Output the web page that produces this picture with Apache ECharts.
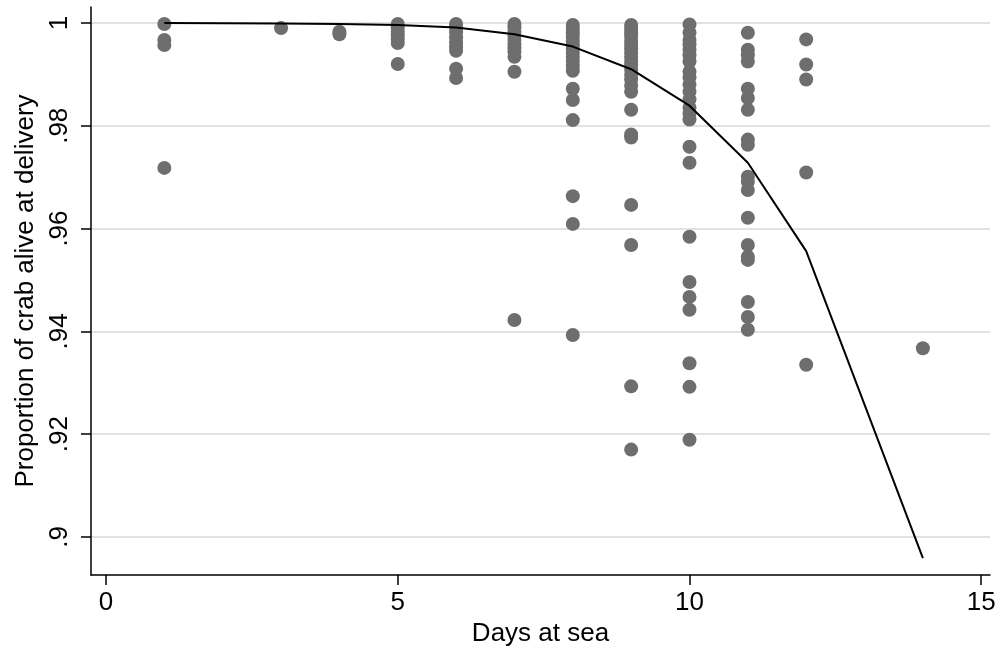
<!DOCTYPE html>
<html>
<head>
<meta charset="utf-8">
<script src="https://cdn.jsdelivr.net/npm/echarts@6/dist/echarts.min.js"></script>
<style>
html,body{margin:0;padding:0;background:#fff;}
#chart{width:997px;height:648px;}
</style>
</head>
<body>
<div id="chart"></div>
<script>
// Observed proportions by days at sea
const day1 = [0.9998, 0.9967, 0.9957, 0.9718];
const day3 = [0.9990];
const day4 = [0.9983, 0.9978];
const day5 = [0.9998, 0.9991, 0.9983, 0.9976, 0.9968, 0.9961, 0.9920];
const day6 = [0.9998, 0.9991, 0.9982, 0.9972, 0.9962, 0.9953, 0.9946, 0.9911, 0.9893];
const day7 = [0.9998, 0.9991, 0.9983, 0.9975, 0.9967, 0.9959, 0.9951, 0.9944, 0.9934, 0.9905, 0.9422];
const day8 = [0.9996, 0.9988, 0.9980, 0.9973, 0.9965, 0.9957, 0.9950, 0.9942, 0.9934, 0.9926, 0.9916, 0.9907, 0.9872, 0.9850, 0.9811, 0.9663, 0.9609, 0.9393];
const day9 = [0.9996, 0.9988, 0.9980, 0.9973, 0.9965, 0.9957, 0.9950, 0.9942, 0.9934, 0.9926, 0.9918, 0.9909, 0.9899, 0.9890, 0.9878, 0.9866, 0.9831, 0.9783, 0.9777, 0.9646, 0.9568, 0.9293, 0.9170];
const day10 = [0.9997, 0.9981, 0.9967, 0.9958, 0.9948, 0.9937, 0.9925, 0.9905, 0.9894, 0.9880, 0.9866, 0.9851, 0.9835, 0.9824, 0.9812, 0.9759, 0.9728, 0.9584, 0.9496, 0.9467, 0.9442, 0.9338, 0.9292, 0.9189];
const day11 = [0.9981, 0.9948, 0.9937, 0.9925, 0.9872, 0.9854, 0.9831, 0.9773, 0.9763, 0.9701, 0.9691, 0.9675, 0.9621, 0.9568, 0.9545, 0.9539, 0.9457, 0.9428, 0.9403];
const day12 = [0.9968, 0.9919, 0.9890, 0.9709, 0.9335];
const day14 = [0.9367];

const scatterDays = [1, 3, 4, 5, 6, 7, 8, 9, 10, 11, 12, 14];
const scatterValues = [day1, day3, day4, day5, day6, day7, day8, day9, day10, day11, day12, day14];

// Fitted curve
const fitDays = [1, 3, 4, 5, 6, 7, 8, 9, 10, 11, 12, 14];
const fitValues = [1.0000, 0.9999, 0.9998, 0.9996, 0.9991, 0.9978, 0.9954, 0.9910, 0.9839, 0.9728, 0.9556, 0.8959];

// Tick labels
const xTicks = [0, 5, 10, 15];
const yTicks = [0.9, 0.92, 0.94, 0.96, 0.98, 1];

const scatterData = [];
scatterDays.forEach((d, i) => scatterValues[i].forEach(v => scatterData.push([d, v])));
const fitData = fitDays.map((d, i) => [d, fitValues[i]]);

const FONT = 'Liberation Sans, Arial, Helvetica, sans-serif';
const FS = 26;
const chart = echarts.init(document.getElementById('chart'), null, {renderer: 'canvas'});
chart.setOption({
  animation: false,
  backgroundColor: '#fff',
  grid: {left: 91, right: 7, top: 7, bottom: 73, containLabel: false, outerBoundsMode: 'none'},
  xAxis: {
    type: 'value',
    min: -0.257,
    max: 15.15,
    name: 'Days at sea',
    nameLocation: 'middle',
    nameGap: 42,
    nameTextStyle: {fontFamily: FONT, fontSize: FS, color: '#000'},
    axisLine: {show: true, onZero: false, lineStyle: {color: '#000', width: 1.5}},
    axisTick: {show: true, customValues: xTicks, length: 10, lineStyle: {color: '#000', width: 1.5}},
    axisLabel: {show: true, customValues: xTicks, margin: 15, fontFamily: FONT, fontSize: FS, color: '#000'},
    splitLine: {show: false}
  },
  yAxis: {
    type: 'value',
    min: 0.8926,
    max: 1.0031,
    name: 'Proportion of crab alive at delivery',
    nameLocation: 'middle',
    nameGap: 50,
    nameTextStyle: {fontFamily: FONT, fontSize: FS, color: '#000'},
    axisLine: {show: true, onZero: false, lineStyle: {color: '#000', width: 1.5}},
    axisTick: {show: true, customValues: yTicks, length: 10, lineStyle: {color: '#000', width: 1.5}},
    axisLabel: {
      show: true, customValues: yTicks, rotate: 90, margin: 18,
      fontFamily: FONT, fontSize: FS, color: '#000',
      formatter: v => (Math.abs(v - 1) < 1e-9 ? '1' : '.' + (Math.round(v * 100)).toString().replace(/0$/, ''))
    },
    splitLine: {show: true, lineStyle: {color: '#e2e2e2', width: 2}}
  },
  series: [
    {
      type: 'scatter',
      data: scatterData,
      symbol: 'circle',
      symbolSize: 14,
      itemStyle: {color: '#6e6e6e', opacity: 1},
      z: 2
    },
    {
      type: 'line',
      data: fitData,
      showSymbol: false,
      symbol: 'none',
      lineStyle: {color: '#000', width: 2},
      z: 3
    }
  ]
});
</script>
</body>
</html>
